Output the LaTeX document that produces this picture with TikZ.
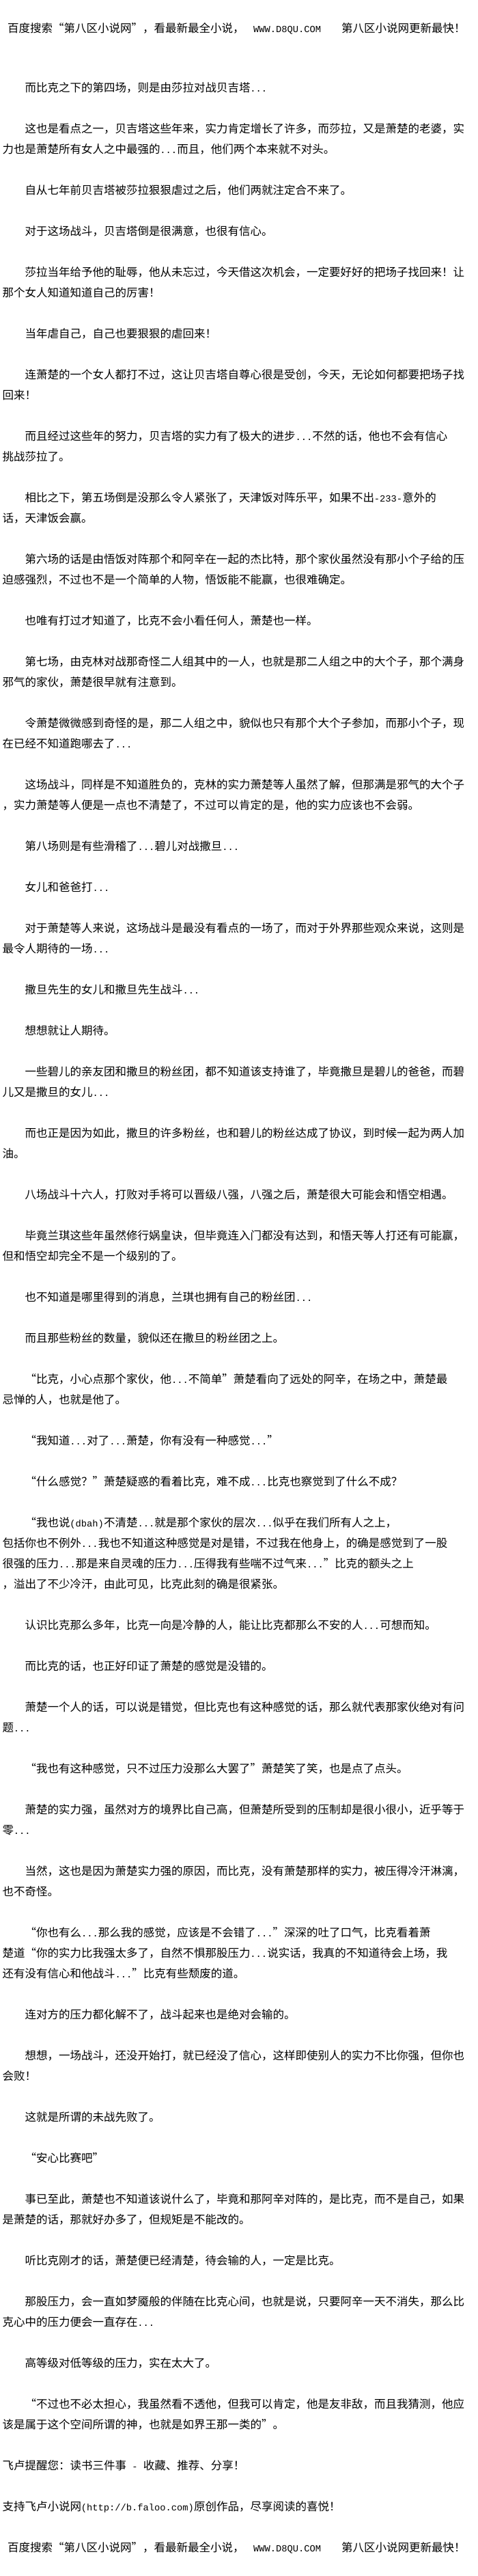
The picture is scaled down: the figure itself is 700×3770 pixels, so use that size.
\documentclass[tikz,border=0pt]{standalone}
\usepackage{fontspec}
\newfontfamily\cjk{Noto Sans CJK SC}
\newfontfamily\monof{Liberation Mono}
\newcommand{\hw}[1]{{\monof\fontsize{13.75}{30}\selectfont #1}}
\newcommand{\oq}{{\addfontfeature{RawFeature=+fwid}“}}
\newcommand{\cq}{{\addfontfeature{RawFeature=+fwid}”}}
\newcommand{\txl}[3]{\node[ln] (n#1) at (#2,{14+30*#1}) {#3};}
\tikzset{ln/.style={anchor=base west, inner sep=0pt, outer sep=0pt, text=black, font=\cjk\fontsize{16.5}{30}\selectfont}}
\begin{document}
\begin{tikzpicture}[x=1pt,y=-1pt]
\fill[white] (0,0) rectangle (700,3770);
\useasboundingbox (0,0) rectangle (700,3770);
% header
\node[ln] (h1) at (11,47) {百度搜索\oq 第八区小说网\cq ，看最新最全小说，};
\node[ln] (h2) at (371,47) {\hw{WWW.D8QU.COM}};
\node[ln] (h3) at (500,47) {第八区小说网更新最快！};
\txl{4}{36.5}{而比克之下的第四场，则是由莎拉对战贝吉塔\hw{...}}
\txl{6}{36.5}{这也是看点之一，贝吉塔这些年来，实力肯定增长了许多，而莎拉，又是萧楚的老婆，实}
\txl{7}{3.5}{力也是萧楚所有女人之中最强的\hw{...}而且，他们两个本来就不对头。}
\txl{9}{36.5}{自从七年前贝吉塔被莎拉狠狠虐过之后，他们两就注定合不来了。}
\txl{11}{36.5}{对于这场战斗，贝吉塔倒是很满意，也很有信心。}
\txl{13}{36.5}{莎拉当年给予他的耻辱，他从未忘过，今天借这次机会，一定要好好的把场子找回来！让}
\txl{14}{3.5}{那个女人知道知道自己的厉害！}
\txl{16}{36.5}{当年虐自己，自己也要狠狠的虐回来！}
\txl{18}{36.5}{连萧楚的一个女人都打不过，这让贝吉塔自尊心很是受创，今天，无论如何都要把场子找}
\txl{19}{3.5}{回来！}
\txl{21}{36.5}{而且经过这些年的努力，贝吉塔的实力有了极大的进步\hw{...}不然的话，他也不会有信心}
\txl{22}{3.5}{挑战莎拉了。}
\txl{24}{36.5}{相比之下，第五场倒是没那么令人紧张了，天津饭对阵乐平，如果不出\hw{-233-}意外的}
\txl{25}{3.5}{话，天津饭会赢。}
\txl{27}{36.5}{第六场的话是由悟饭对阵那个和阿辛在一起的杰比特，那个家伙虽然没有那小个子给的压}
\txl{28}{3.5}{迫感强烈，不过也不是一个简单的人物，悟饭能不能赢，也很难确定。}
\txl{30}{36.5}{也唯有打过才知道了，比克不会小看任何人，萧楚也一样。}
\txl{32}{36.5}{第七场，由克林对战那奇怪二人组其中的一人，也就是那二人组之中的大个子，那个满身}
\txl{33}{3.5}{邪气的家伙，萧楚很早就有注意到。}
\txl{35}{36.5}{令萧楚微微感到奇怪的是，那二人组之中，貌似也只有那个大个子参加，而那小个子，现}
\txl{36}{3.5}{在已经不知道跑哪去了\hw{...}}
\txl{38}{36.5}{这场战斗，同样是不知道胜负的，克林的实力萧楚等人虽然了解，但那满是邪气的大个子}
\txl{39}{3.5}{，实力萧楚等人便是一点也不清楚了，不过可以肯定的是，他的实力应该也不会弱。}
\txl{41}{36.5}{第八场则是有些滑稽了\hw{...}碧儿对战撒旦\hw{...}}
\txl{43}{36.5}{女儿和爸爸打\hw{...}}
\txl{45}{36.5}{对于萧楚等人来说，这场战斗是最没有看点的一场了，而对于外界那些观众来说，这则是}
\txl{46}{3.5}{最令人期待的一场\hw{...}}
\txl{48}{36.5}{撒旦先生的女儿和撒旦先生战斗\hw{...}}
\txl{50}{36.5}{想想就让人期待。}
\txl{52}{36.5}{一些碧儿的亲友团和撒旦的粉丝团，都不知道该支持谁了，毕竟撒旦是碧儿的爸爸，而碧}
\txl{53}{3.5}{儿又是撒旦的女儿\hw{...}}
\txl{55}{36.5}{而也正是因为如此，撒旦的许多粉丝，也和碧儿的粉丝达成了协议，到时候一起为两人加}
\txl{56}{3.5}{油。}
\txl{58}{36.5}{八场战斗十六人，打败对手将可以晋级八强，八强之后，萧楚很大可能会和悟空相遇。}
\txl{60}{36.5}{毕竟兰琪这些年虽然修行娲皇诀，但毕竟连入门都没有达到，和悟天等人打还有可能赢，}
\txl{61}{3.5}{但和悟空却完全不是一个级别的了。}
\txl{63}{36.5}{也不知道是哪里得到的消息，兰琪也拥有自己的粉丝团\hw{...}}
\txl{65}{36.5}{而且那些粉丝的数量，貌似还在撒旦的粉丝团之上。}
\txl{67}{36.5}{\oq 比克，小心点那个家伙，他\hw{...}不简单\cq 萧楚看向了远处的阿辛，在场之中，萧楚最}
\txl{68}{3.5}{忌惮的人，也就是他了。}
\txl{70}{36.5}{\oq 我知道\hw{...}对了\hw{...}萧楚，你有没有一种感觉\hw{...}\cq}
\txl{72}{36.5}{\oq 什么感觉？\cq 萧楚疑惑的看着比克，难不成\hw{...}比克也察觉到了什么不成？}
\txl{74}{36.5}{\oq 我也说\hw{(dbah)}不清楚\hw{...}就是那个家伙的层次\hw{...}似乎在我们所有人之上，}
\txl{75}{3.5}{包括你也不例外\hw{...}我也不知道这种感觉是对是错，不过我在他身上，的确是感觉到了一股}
\txl{76}{3.5}{很强的压力\hw{...}那是来自灵魂的压力\hw{...}压得我有些喘不过气来\hw{...}\cq 比克的额头之上}
\txl{77}{3.5}{，溢出了不少冷汗，由此可见，比克此刻的确是很紧张。}
\txl{79}{36.5}{认识比克那么多年，比克一向是冷静的人，能让比克都那么不安的人\hw{...}可想而知。}
\txl{81}{36.5}{而比克的话，也正好印证了萧楚的感觉是没错的。}
\txl{83}{36.5}{萧楚一个人的话，可以说是错觉，但比克也有这种感觉的话，那么就代表那家伙绝对有问}
\txl{84}{3.5}{题\hw{...}}
\txl{86}{36.5}{\oq 我也有这种感觉，只不过压力没那么大罢了\cq 萧楚笑了笑，也是点了点头。}
\txl{88}{36.5}{萧楚的实力强，虽然对方的境界比自己高，但萧楚所受到的压制却是很小很小，近乎等于}
\txl{89}{3.5}{零\hw{...}}
\txl{91}{36.5}{当然，这也是因为萧楚实力强的原因，而比克，没有萧楚那样的实力，被压得冷汗淋漓，}
\txl{92}{3.5}{也不奇怪。}
\txl{94}{36.5}{\oq 你也有么\hw{...}那么我的感觉，应该是不会错了\hw{...}\cq 深深的吐了口气，比克看着萧}
\txl{95}{3.5}{楚道\oq 你的实力比我强太多了，自然不惧那股压力\hw{...}说实话，我真的不知道待会上场，我}
\txl{96}{3.5}{还有没有信心和他战斗\hw{...}\cq 比克有些颓废的道。}
\txl{98}{36.5}{连对方的压力都化解不了，战斗起来也是绝对会输的。}
\txl{100}{36.5}{想想，一场战斗，还没开始打，就已经没了信心，这样即使别人的实力不比你强，但你也}
\txl{101}{3.5}{会败！}
\txl{103}{36.5}{这就是所谓的未战先败了。}
\txl{105}{36.5}{\oq 安心比赛吧\cq}
\txl{107}{36.5}{事已至此，萧楚也不知道该说什么了，毕竟和那阿辛对阵的，是比克，而不是自己，如果}
\txl{108}{3.5}{是萧楚的话，那就好办多了，但规矩是不能改的。}
\txl{110}{36.5}{听比克刚才的话，萧楚便已经清楚，待会输的人，一定是比克。}
\txl{112}{36.5}{那股压力，会一直如梦魇般的伴随在比克心间，也就是说，只要阿辛一天不消失，那么比}
\txl{113}{3.5}{克心中的压力便会一直存在\hw{...}}
\txl{115}{36.5}{高等级对低等级的压力，实在太大了。}
\txl{117}{36.5}{\oq 不过也不必太担心，我虽然看不透他，但我可以肯定，他是友非敌，而且我猜测，他应}
\txl{118}{3.5}{该是属于这个空间所谓的神，也就是如界王那一类的\cq 。}
\txl{120}{3.5}{飞卢提醒您：读书三件事\hw{ - }收藏、推荐、分享！}
\txl{122}{3.5}{支持飞卢小说网\hw{(http://b.faloo.com)}原创作品，尽享阅读的喜悦！}
% footer
\node[ln] (f1) at (11,3734) {百度搜索\oq 第八区小说网\cq ，看最新最全小说，};
\node[ln] (f2) at (371,3734) {\hw{WWW.D8QU.COM}};
\node[ln] (f3) at (500,3734) {第八区小说网更新最快！};
\end{tikzpicture}
\end{document}
